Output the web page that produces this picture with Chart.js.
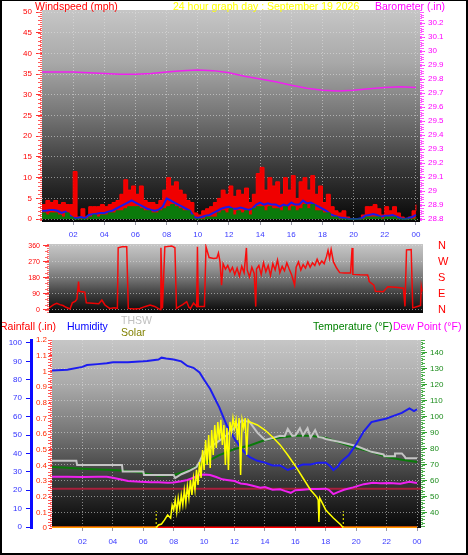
<!DOCTYPE html>
<html>
<head>
<meta charset="utf-8">
<script src="https://cdn.jsdelivr.net/npm/chart.js@4.4.0/dist/chart.umd.min.js"></script>
<style>
  body { margin: 0; background: #fff; }
  #wrap { position: relative; width: 468px; height: 555px; overflow: hidden; font-family: "Liberation Sans", Arial, sans-serif; }
  #wrap canvas { position: absolute; left: 0; }
  .lbl { position: absolute; font-size: 10.5px; line-height: 11px; white-space: nowrap; }
  #frame { position: absolute; left: 0; top: 0; width: 468px; height: 555px; box-sizing: border-box; border: 2px solid #000; border-top-width: 1px; pointer-events: none; }
</style>
</head>
<body>
<div id="wrap">
  <canvas id="c1" width="468" height="240" style="top:0"></canvas>
  <canvas id="c2" width="468" height="80" style="top:240px"></canvas>
  <canvas id="c3" width="468" height="235" style="top:320px"></canvas>

  <div class="lbl" style="left:35px; top:1px; color:#ff0000">Windspeed (mph)</div>
  <div class="lbl" style="left:173px; top:1px; color:#ffff00">24 hour graph day : September 19 2026</div>
  <div class="lbl" style="left:375px; top:1px; color:#ff00ff">Barometer (.in)</div>

  <div class="lbl" style="left:0; top:321px; color:#ff0000">Rainfall (.in)</div>
  <div class="lbl" style="left:67px; top:321px; color:#0000ff">Humidity</div>
  <div class="lbl" style="left:121px; top:315px; color:#c0c0c0">THSW</div>
  <div class="lbl" style="left:121px; top:327px; color:#808000">Solar</div>
  <div class="lbl" style="left:313px; top:321px; color:#008000">Temperature (°F)</div>
  <div class="lbl" style="left:393px; top:321px; color:#ff00ff">Dew Point (°F)</div>
  <div id="frame"></div>
</div>
<script>
// tick labels
const hourTicks = [2, 4, 6, 8, 10, 12, 14, 16, 18, 20, 22, 24];
const hourLabels = ['02', '04', '06', '08', '10', '12', '14', '16', '18', '20', '22', '00'];
const windTicks = [0, 5, 10, 15, 20, 25, 30, 35, 40, 45, 50];
const baroTicks = [28.8, 28.9, 29, 29.1, 29.2, 29.3, 29.4, 29.5, 29.6, 29.7, 29.8, 29.9, 30, 30.1, 30.2];
const dirTicks = [0, 90, 180, 270, 360];
const dirLetters = ['N', 'E', 'S', 'W', 'N'];
const humTicks = [0, 10, 20, 30, 40, 50, 60, 70, 80, 90, 100];
const rainTicks = [0, 0.1, 0.2, 0.3, 0.4, 0.5, 0.6, 0.7, 0.8, 0.9, 1, 1.1, 1.2];
const tempTicks = [40, 50, 60, 70, 80, 90, 100, 110, 120, 130, 140];

// wind, one value every 15 minutes from 00:00 to 24:00 (mph)
const windStep = 0.25;
const windHi = [
  3.5, 4.5, 4, 4.5,   3.5, 4, 3.5, 3.5,   11.5, 0.5, 2.5, 0.5,   3, 3, 3, 3.5,
  3, 3.5, 4, 4.5,     6, 9.5, 7, 8,       6, 8, 4.5, 4,          4, 3.5, 4.5, 7,
  10, 8, 9, 7,        6, 4.5, 4, 1.5,     1, 2, 2.5, 3,          4, 5, 7, 6,
  8, 5.5, 7, 6,       7.5, 4, 6, 11,      12.5, 7, 10, 8,        9, 6, 10, 7,
  10.5, 5, 9, 10,     7, 10.5, 6, 8,      4, 6, 3, 2,            1.5, 2, 0.5, 0,
  0, 0, 1, 3,         3, 3.5, 2.5, 1,     3, 2, 3, 1.5,          0.5, 0, 0.5, 2,
  3.5
];
const windAvg = [
  2, 2, 2.2, 2.2,     2, 1.5, 1.8, 1,     0.3, 0.2, 0.5, 0.2,    1, 1.2, 1.3, 1.5,
  1.5, 1.8, 2, 2.5,   3, 3.5, 4, 4.5,     4, 3.5, 3, 2.5,        2.2, 2, 2.3, 3,
  5, 4.5, 4, 3.5,     3, 2.5, 2, 0.5,     0.3, 0.5, 0.8, 1,      1.5, 2, 2.5, 2.8,
  3, 2.5, 2.5, 2.8,   2.5, 2.2, 2.5, 3.5, 4, 3.5, 3.8, 3.5,      3.5, 3, 3.5, 3.2,
  4, 3.5, 3.5, 4.5,   3.8, 4, 3.5, 3,     2.5, 2, 1.2, 0.8,      0.5, 0.3, 0.2, 0,
  0, 0, 0.2, 0.8,     1, 1.2, 1, 0.6,     0.8, 0.8, 1, 0.6,      0.2, 0, 0.2, 0.5,
  1
];
const windLo = [
  1.5, 1, 1.5, 1.5,   1, 0.5, 1.5, 0.5,   0, 0, 0, 0,            0.5, 1, 0.5, 1,
  1, 1.5, 1.5, 2,     2, 2.5, 3, 3,       3, 2.5, 2, 2,          1.5, 1.5, 2, 2.5,
  3, 3.5, 3, 2.5,     2, 2, 1, 0,         0, 0, 0.5, 0.5,        0.5, 1.5, 2, 1.5,
  2.5, 1, 2, 1.5,     2, 1, 2.5, 3,       3, 2, 3, 2.5,          2.5, 2, 3, 2,
  3, 2, 2.5, 3.5,     2.5, 3.5, 2, 2,     1.5, 1.5, 0.5, 0.5,    0, 0, 0, 0,
  0, 0, 0, 0.5,       0.5, 0.5, 0.5, 0,   0.5, 0.5, 0.5, 0,      0, 0, 0, 0,
  0.5
];

// barometer, hourly (in)
const baroHours = [0, 1, 2, 3, 4, 5, 6, 7, 8, 9, 10, 11, 12, 13, 14, 15, 16, 17, 18, 19, 20, 21, 22, 23, 24];
const baroValues = [29.85, 29.85, 29.85, 29.845, 29.84, 29.835, 29.835, 29.84, 29.85, 29.86, 29.865, 29.86, 29.845,
  29.82, 29.8, 29.78, 29.755, 29.735, 29.72, 29.715, 29.72, 29.73, 29.74, 29.745, 29.74];

// wind direction (degrees)
const dirHours = [0, 0.3, 0.5, 0.7, 0.9, 1.1, 1.35, 1.5, 1.7, 1.8, 1.9, 1.95, 2.3, 2.4, 2.8, 3.2, 3.4, 3.6, 3.9, 4.2,
  4.4, 4.45, 4.7, 5.0, 5.1, 5.5, 5.85, 6.2, 6.5, 6.8, 7.15, 7.2, 7.3, 7.45, 7.9, 8.1, 8.2, 8.4, 8.6, 8.86,
  9.0, 9.1, 9.3, 9.5, 9.55, 9.6, 10.0, 10.1, 10.3, 10.6, 10.8, 10.9, 11.0, 11.1, 11.2, 11.35, 11.5, 11.65, 11.8, 11.95,
  12.1, 12.25, 12.4, 12.55, 12.7, 12.75, 12.9, 13.05, 13.2, 13.3, 13.35, 13.5, 13.65, 13.8, 13.95, 14.1, 14.25, 14.4, 14.55, 14.7,
  14.85, 15.0, 15.15, 15.3, 15.45, 15.6, 15.8, 15.9, 16.05, 16.2, 16.35, 16.5, 16.65, 16.8, 16.95, 17.1, 17.25, 17.4, 17.55, 17.7,
  17.85, 17.95, 18.05, 18.15, 18.3, 18.5, 18.7, 19.0, 19.4, 19.5, 19.55, 20.0, 20.5, 20.6, 20.9, 21.0, 21.5, 21.8, 22.3, 22.8,
  22.9, 23.0, 23.3, 23.4, 23.7, 23.9, 23.95, 24.0];
const dirValues = [12, 30, 38, 30, 25, 15, 6, 40, 50, 62, 160, 105, 100, 40, 38, 35, 56, 28, 9, 12,
  9, 350, 356, 355, 9, 5, 8, 20, 28, 20, 2, 350, 9, 355, 360, 350, 9, 20, 30, 47,
  15, 9, 39, 20, 355, 20, 20, 355, 295, 290, 292, 320, 272, 140, 260, 230, 250, 215, 240, 200,
  235, 190, 245, 210, 349, 225, 185, 240, 205, 19, 230, 250, 200, 265, 215, 250, 195, 260, 225, 280,
  210, 245, 220, 265, 230, 200, 140, 240, 270, 225, 255, 235, 270, 240, 265, 250, 285, 255, 275, 260,
  300, 335, 290, 340, 270, 236, 210, 208, 208, 349, 200, 198, 197, 160, 140, 105, 103, 131, 128, 122,
  20, 338, 340, 12, 20, 25, 130, 105];

// humidity (%)
const humHours = [0, 1, 2, 2.3, 3, 3.6, 4, 5, 6, 6.25, 7, 7.2, 7.5, 8, 8.5, 8.9, 9.3, 9.7, 10, 10.4,
  10.7, 11, 11.5, 12, 12.5, 13, 13.5, 14, 14.5, 15, 15.5, 16, 16.5, 17, 17.5, 18, 18.3, 18.5, 18.8, 19,
  19.5, 20, 20.5, 21, 21.5, 22, 22.5, 23, 23.5, 23.8, 24];
const humValues = [85, 85.5, 87, 88, 88.5, 89, 89.5, 89.5, 90, 90.2, 91, 92, 91.5, 91, 90, 87.5, 86.5, 84, 80, 75,
  70, 65, 55, 48, 42, 38, 36, 35, 33.5, 33.5, 31, 32.5, 34, 34, 35, 35, 33, 31, 33, 35.5,
  39, 45, 52, 57, 58, 59, 60.5, 62, 64.5, 63, 64];

// temperature (F), hourly
const tempHours = [0, 1, 2, 3, 4, 5, 6, 7, 8, 9, 10, 11, 12, 13, 14, 15, 16, 17, 18, 19, 20, 21, 22, 23, 24];
const tempValues = [68.7, 68.2, 67.7, 67.2, 66.8, 66.2, 64.9, 63.2, 63.7, 66.8, 71.2, 76.2, 80, 82.2, 85.6, 87.2,
  88.2, 88.2, 86.8, 83.7, 80.6, 78.2, 75, 73.2, 71.8];

// THSW index (F)
const thswHours = [0, 1.6, 1.65, 4.6, 4.65, 6.0, 6.05, 8.0, 8.1, 8.5, 9.0, 9.5, 9.7, 10, 10.5, 11, 11.5, 12, 12.5, 13,
  13.5, 14, 14.5, 15, 15.3, 15.5, 15.8, 16, 16.3, 16.5, 16.8, 17, 17.3, 17.5, 17.8, 18, 19, 20, 21, 21.8,
  21.85, 22.5, 22.55, 23, 23.2, 23.25, 24];
const thswValues = [72.6, 72.6, 70, 70, 65.9, 65.9, 63.7, 63.7, 61.8, 64.2, 66.2, 68.7, 72, 78.2, 81.8, 85.2, 88.7, 93.2, 98, 96.8,
  90.2, 85.6, 86.8, 88.2, 88, 92.5, 88.2, 88.4, 93, 88.5, 93, 87.2, 91.8, 87.5, 87, 86.2, 84.2, 81.8, 78.2, 76.6,
  75.5, 75.5, 77.2, 77.2, 75, 74.2, 74.2];

// dew point (F)
const dewHours = [0, 1, 2, 3, 3.6, 4, 4.7, 5, 5.8, 6.5, 7, 7.6, 8, 8.5, 8.9, 9.3, 9.7, 10, 10.4, 10.8,
  11.2, 11.5, 12, 12.4, 12.8, 13.2, 13.7, 14, 14.5, 15, 15.3, 15.7, 16, 16.5, 17, 17.5, 18, 18.2, 18.5, 18.8,
  19.2, 19.8, 20.5, 21.1, 21.6, 22.2, 22.9, 23.5, 24];
const dewValues = [62.6, 62.6, 62.5, 62.6, 62.6, 62, 60.6, 60, 59.5, 59.2, 59.2, 58.9, 59, 59.8, 60.6, 62, 63.7, 64, 63.7, 62.5,
  61, 60.6, 60, 58.4, 58, 57, 55.8, 56.2, 54.5, 54.8, 53.8, 52.6, 54.2, 54.5, 54.9, 55, 55.2, 54.5, 51.8, 53,
  54.5, 56, 58, 58.9, 58.5, 58.8, 58.3, 59.5, 58.7];

// flat reference line (F)
const refHours = [0, 24.3];
const refValues = [55.2, 55.2];

// solar radiation (W/m2)
const solarHours = [0, 6.85, 7.0, 7.2, 7.4, 7.6, 7.8, 7.9, 8.0, 8.1, 8.2, 8.3, 8.4, 8.5, 8.6, 8.7, 8.8, 8.9, 9.0, 9.1,
  9.2, 9.3, 9.4, 9.5, 9.6, 9.7, 9.8, 9.9, 10.0, 10.1, 10.2, 10.3, 10.4, 10.5, 10.6, 10.7, 10.8, 10.9, 11.0, 11.1,
  11.2, 11.3, 11.4, 11.5, 11.6, 11.7, 11.8, 11.9, 12.0, 12.1, 12.2, 12.3, 12.4, 12.5, 12.6, 12.7, 12.8, 12.9, 13.0, 13.5,
  14.0, 14.5, 15.0, 15.5, 16.0, 16.5, 17.0, 17.4, 17.5, 17.55, 17.6, 17.8, 18.0, 18.5, 19.0, 19.15, 24];
const solarValues = [0, 0, 16, 21, 43, 69, 53, 122, 96, 149, 85, 160, 106, 176, 122, 202, 133, 223, 160, 255,
  176, 266, 202, 309, 229, 351, 266, 415, 309, 468, 335, 495, 319, 521, 388, 548, 426, 564, 468, 575,
  442, 548, 335, 532, 309, 564, 511, 585, 532, 575, 468, 585, 282, 575, 532, 585, 388, 575, 564, 548,
  521, 484, 442, 388, 330, 266, 202, 165, 149, 32, 160, 128, 96, 53, 16, 0, 0];
const sunEvents = [6.85, 19.15];
const sunMarkHeight = 90;

// rainfall (in)
const rainHours = [0, 24];
const rainValues = [0, 0];

Chart.defaults.font.family = '"Liberation Sans", Arial, sans-serif';
Chart.defaults.animation = false;

const gridColor = 'rgba(225,225,225,0.55)';
const xy = (xs, ys) => xs.map((x, i) => ({ x: x, y: ys[i] }));
const fixTicks = vals => s => { s.ticks = vals.map(v => ({ value: v })); };
// fixed axis width; the label half-heights must not push the plot area in
const width = w => s => { s.width = w; s.paddingTop = 0; s.paddingBottom = 0; };
const height = h => s => { s.height = h; };

const panelBg = {
    id: 'panelBg',
    beforeDraw(chart) {
        const { ctx, chartArea: a } = chart;
        const g = ctx.createLinearGradient(0, a.top, 0, a.bottom);
        g.addColorStop(0, '#c6c6c6');
        g.addColorStop(0.25, '#a8a8a8');
        g.addColorStop(0.5, '#747474');
        g.addColorStop(0.75, '#383838');
        g.addColorStop(1, '#060606');
        ctx.save();
        ctx.fillStyle = g;
        ctx.fillRect(a.left, a.top, a.right - a.left, a.bottom - a.top);
        ctx.restore();
    }
};

// dotted axis rulers with minor ticks
function rulers(list) {
    return {
        id: 'rulers',
        afterDraw(chart) {
            const ctx = chart.ctx;
            list.forEach(r => {
                const s = chart.scales[r.axis];
                const left = s.position === 'left';
                const x = left ? s.right - 1 : s.left + 1;
                const dir = left ? -1 : 1;
                ctx.save();
                ctx.strokeStyle = r.color;
                ctx.lineWidth = 2;
                ctx.setLineDash([1, 1]);
                ctx.beginPath();
                ctx.moveTo(x, s.top);
                ctx.lineTo(x, s.bottom);
                ctx.stroke();
                ctx.setLineDash([]);
                ctx.lineWidth = 1;
                const n = Math.floor((s.max - s.min) / r.minor);
                const first = Math.ceil(s.min / r.minor);
                for (let k = 0; k <= n; k++) {
                    const y = Math.round(s.getPixelForValue((first + k) * r.minor)) + 0.5;
                    if (y < s.top || y > s.bottom) continue;
                    ctx.beginPath();
                    ctx.moveTo(x, y);
                    ctx.lineTo(x + dir * 3, y);
                    ctx.stroke();
                }
                ctx.restore();
            });
        }
    };
}

function hourAxis(max, h, pad) {
    return {
        type: 'linear', min: 0, max: max, position: 'bottom',
        afterFit: height(h),
        afterBuildTicks: fixTicks(hourTicks),
        ticks: { color: '#3a3aff', font: { size: 8 }, padding: pad, maxRotation: 0, autoSkip: false,
                 callback: (v, i) => hourLabels[i] },
        grid: { color: gridColor, tickColor: '#9a9aa8', tickLength: 3 },
        border: { display: false, dash: [1, 2] }
    };
}

const common = {
    responsive: false,
    maintainAspectRatio: false,
    plugins: { legend: { display: false }, tooltip: { enabled: false } },
    elements: { point: { radius: 0 }, line: { tension: 0 } },
    events: []
};

// ---- wind speed + barometer
const windTimes = windHi.map((_, i) => i * windStep);

new Chart(document.getElementById('c1'), {
    type: 'line',
    data: {
        datasets: [
            { data: xy(windTimes, windLo), yAxisID: 'y', stepped: true, fill: 'origin',
              borderColor: '#0b7a0b', backgroundColor: '#0b7a0b', borderWidth: 1, order: 1 },
            { data: xy(windTimes, windAvg), yAxisID: 'y', borderColor: '#1a1ae8', borderWidth: 2, order: 2 },
            { data: xy(windTimes, windHi), yAxisID: 'y', stepped: true, fill: 'origin',
              borderColor: '#ff0000', backgroundColor: '#f00000', borderWidth: 1, order: 3 },
            { data: xy(baroHours, baroValues), yAxisID: 'yb', borderColor: '#f020f0', borderWidth: 1.5, order: 0 }
        ]
    },
    options: Object.assign({}, common, {
        layout: { padding: { top: 10, left: 0, right: 0, bottom: 0 } },
        scales: {
            x: hourAxis(24.26, 18, 5),
            y: {
                position: 'left', min: -0.7, max: 50.5,
                afterFit: width(42), afterBuildTicks: fixTicks(windTicks),
                ticks: { color: '#ff0000', font: { size: 8 }, padding: 4, autoSkip: false },
                grid: { color: gridColor, tickColor: '#ff3030', tickLength: 6 },
                border: { display: false, dash: [1, 2] }
            },
            yb: {
                position: 'right', min: 28.779, max: 30.293,
                afterFit: width(48), afterBuildTicks: fixTicks(baroTicks),
                ticks: { color: '#ff00ff', font: { size: 8 }, padding: 3, autoSkip: false,
                         callback: (v, i) => String(baroTicks[i]) },
                grid: { drawOnChartArea: false, tickColor: '#ff30ff', tickLength: 5 },
                border: { display: false }
            }
        }
    }),
    plugins: [panelBg, rulers([{ axis: 'y', color: '#ff5a5a', minor: 1 }, { axis: 'yb', color: '#ff5aff', minor: 0.02 }])]
});

// ---- wind direction
new Chart(document.getElementById('c2'), {
    type: 'line',
    data: {
        datasets: [
            { data: xy(dirHours, dirValues), borderColor: 'rgba(255,0,0,0.92)', borderWidth: 1.5 }
        ]
    },
    options: Object.assign({}, common, {
        layout: { padding: { top: 4, left: 0, right: 0, bottom: 7 } },
        scales: {
            x: { type: 'linear', min: 0, max: 24.06, display: false },
            y: {
                position: 'left', min: -17, max: 371,
                afterFit: width(49), afterBuildTicks: fixTicks(dirTicks),
                ticks: { color: '#ff0000', font: { size: 7 }, padding: 3, autoSkip: false },
                grid: { color: gridColor, tickColor: '#ff3030', tickLength: 6 },
                border: { display: false, dash: [1, 2] }
            },
            yd: {
                position: 'right', min: -17, max: 371,
                afterFit: width(45), afterBuildTicks: fixTicks(dirTicks),
                ticks: { color: '#ff0000', font: { size: 11 }, padding: 2, autoSkip: false,
                         callback: (v, i) => dirLetters[i] },
                grid: { drawOnChartArea: false, tickColor: 'rgba(0,0,0,0)', tickLength: 13 },
                border: { display: false }
            }
        }
    }),
    plugins: [panelBg, rulers([{ axis: 'y', color: '#ff6a6a', minor: 30 }])]
});

// ---- rain, humidity, temperatures, solar
const zeroSeg = c => c.p0.parsed.y === 0 && c.p1.parsed.y === 0;

const solarSets = [
    { data: xy(solarHours, solarValues), yAxisID: 'ys', borderColor: '#ffff00', borderWidth: 1.5, order: 0,
      segment: { borderColor: c => zeroSeg(c) ? '#ff9a00' : undefined, borderWidth: c => zeroSeg(c) ? 3 : undefined } }
];
sunEvents.forEach(h => {
    solarSets.push({ data: [{ x: h, y: 0 }, { x: h, y: sunMarkHeight }], yAxisID: 'ys',
        borderColor: '#ffff00', borderWidth: 1, borderDash: [2, 2], order: 0 });
});

new Chart(document.getElementById('c3'), {
    type: 'line',
    data: {
        datasets: solarSets.concat([
            { data: xy(humHours, humValues), yAxisID: 'yh', borderColor: '#1c1cf0', borderWidth: 2, order: 1 },
            { data: xy(thswHours, thswValues), yAxisID: 'yt', borderColor: '#c4c4c4', borderWidth: 2, order: 2 },
            { data: xy(tempHours, tempValues), yAxisID: 'yt', borderColor: '#0a7a0a', borderWidth: 2, order: 3 },
            { data: xy(dewHours, dewValues), yAxisID: 'yt', borderColor: '#f020f0', borderWidth: 2, order: 4 },
            { data: xy(refHours, refValues), yAxisID: 'yt', borderColor: '#a8203c', borderWidth: 2, order: 5 },
            { data: xy(rainHours, rainValues), yAxisID: 'yr', borderColor: '#ff0000', borderWidth: 3, order: 6 }
        ])
    },
    options: Object.assign({}, common, {
        layout: { padding: { top: 20, left: 0, right: 0, bottom: 0 } },
        scales: {
            x: hourAxis(24.26, 27, 6),
            yh: {
                position: 'left', weight: 1, min: -0.5, max: 101.6,
                afterFit: width(31), afterBuildTicks: fixTicks(humTicks),
                ticks: { color: '#3030ff', font: { size: 8 }, padding: 4, autoSkip: false },
                grid: { drawOnChartArea: false, tickColor: '#1010ff', tickLength: 5 },
                border: { display: true, color: '#0a0aff', width: 3 }
            },
            yr: {
                position: 'left', weight: 0, min: 0, max: 1.2,
                afterFit: width(21), afterBuildTicks: fixTicks(rainTicks),
                ticks: { color: '#ff2a00', font: { size: 8 }, padding: 2, autoSkip: false,
                         callback: (v, i) => String(rainTicks[i]) },
                grid: { drawOnChartArea: false, tickColor: '#ff3030', tickLength: 3 },
                border: { display: false }
            },
            yt: {
                position: 'right', min: 30.6, max: 148.1,
                afterFit: width(47), afterBuildTicks: fixTicks(tempTicks),
                ticks: { color: '#1c8c1c', font: { size: 8 }, padding: 3, autoSkip: false },
                grid: { color: gridColor, tickColor: '#30a030', tickLength: 6 },
                border: { display: false, dash: [1, 2] }
            },
            ys: { display: false, min: 0, max: 1000 }
        }
    }),
    plugins: [panelBg, rulers([{ axis: 'yr', color: '#ff5a5a', minor: 0.02 }, { axis: 'yt', color: '#50b050', minor: 2 }])]
});
</script>
</body>
</html>
